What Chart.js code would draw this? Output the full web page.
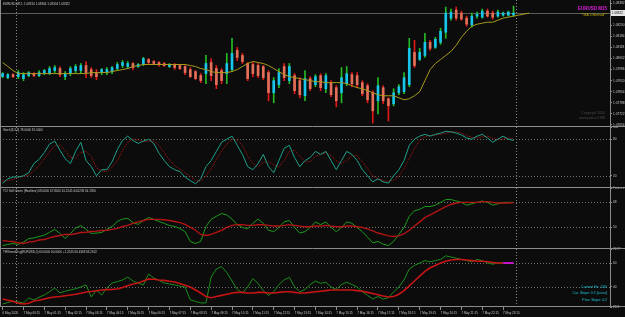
<!DOCTYPE html>
<html>
<head>
<meta charset="utf-8">
<script src="https://cdn.jsdelivr.net/npm/chart.js@4.4.1/dist/chart.umd.min.js"></script>
<style>
  body { margin: 0; background: #0c0c0c; }
  #wrap { position: relative; width: 625px; height: 317px; overflow: hidden; background: #0c0c0c; }
  canvas { position: absolute; left: 0; }
</style>
</head>
<body>
<div id="wrap">
  <canvas id="mainChart" width="625" height="127" style="top:0"></canvas>
  <canvas id="stochChart" width="625" height="61" style="top:127px"></canvas>
  <canvas id="tciChart" width="625" height="61" style="top:188px"></canvas>
  <canvas id="thvChart" width="625" height="68" style="top:249px"></canvas>
</div>
<script>
const FONT = '"Liberation Sans", sans-serif';

// EURUSD M15 bars, 6 May 23:15 .. 7 May 23:45
const opens = [1.07944, 1.07938, 1.07956, 1.07944, 1.07932, 1.07950, 1.07962, 1.07950, 1.07962, 1.07962,
  1.07980, 1.07992, 1.07944, 1.07962, 1.07980, 1.07980, 1.08010, 1.07986, 1.07968, 1.07968,
  1.07968, 1.07974, 1.07992, 1.08010, 1.08004, 1.08022, 1.08004, 1.08016, 1.08046, 1.08034,
  1.08028, 1.08022, 1.08004, 1.08016, 1.08010, 1.08004, 1.07986, 1.07974, 1.07950, 1.07962,
  1.08028, 1.07992, 1.07980, 1.07962, 1.07986, 1.08100, 1.08070, 1.08022, 1.08016, 1.08010,
  1.08004, 1.07968, 1.07848, 1.07896, 1.08004, 1.07920, 1.07950, 1.07920, 1.07830, 1.07932,
  1.07896, 1.07950, 1.07872, 1.07908, 1.07878, 1.07848, 1.07902, 1.07956, 1.07950, 1.07908,
  1.07890, 1.07848, 1.07800, 1.07878, 1.07812, 1.07782, 1.07848, 1.07854, 1.07896, 1.08088,
  1.08046, 1.08070, 1.08148, 1.08118, 1.08148, 1.08208, 1.08292, 1.08340, 1.08322, 1.08292,
  1.08250, 1.08304, 1.08298, 1.08334, 1.08322, 1.08304, 1.08310, 1.08310, 1.08310];
const highs = [1.07968, 1.07962, 1.07962, 1.07980, 1.07968, 1.07974, 1.07968, 1.07980, 1.07986, 1.08004,
  1.08010, 1.08004, 1.07974, 1.08004, 1.08016, 1.08022, 1.08034, 1.07998, 1.07986, 1.07992,
  1.07998, 1.08004, 1.08028, 1.08040, 1.08034, 1.08028, 1.08022, 1.08058, 1.08052, 1.08040,
  1.08034, 1.08028, 1.08022, 1.08022, 1.08016, 1.08010, 1.07998, 1.07980, 1.07962, 1.08070,
  1.08052, 1.08010, 1.07992, 1.08082, 1.08172, 1.08118, 1.08082, 1.08028, 1.08028, 1.08022,
  1.08010, 1.07980, 1.07938, 1.07992, 1.08022, 1.08022, 1.07962, 1.07938, 1.07980, 1.07944,
  1.07956, 1.07962, 1.07962, 1.07920, 1.07890, 1.07998, 1.08004, 1.07968, 1.07968, 1.07920,
  1.07902, 1.07860, 1.07938, 1.07890, 1.07818, 1.07872, 1.07896, 1.07968, 1.08172, 1.08160,
  1.08112, 1.08202, 1.08160, 1.08178, 1.08232, 1.08358, 1.08346, 1.08358, 1.08334, 1.08304,
  1.08322, 1.08328, 1.08346, 1.08346, 1.08334, 1.08340, 1.08328, 1.08334, 1.08364];
const lows = [1.07938, 1.07932, 1.07938, 1.07932, 1.07920, 1.07944, 1.07944, 1.07944, 1.07956, 1.07956,
  1.07968, 1.07944, 1.07926, 1.07950, 1.07968, 1.07962, 1.07938, 1.07938, 1.07926, 1.07956,
  1.07956, 1.07962, 1.07980, 1.07998, 1.07992, 1.07986, 1.07998, 1.08010, 1.08016, 1.08016,
  1.08004, 1.08004, 1.07998, 1.07986, 1.07986, 1.07956, 1.07938, 1.07926, 1.07908, 1.07902,
  1.07920, 1.07872, 1.07902, 1.07902, 1.07974, 1.08040, 1.08022, 1.07920, 1.07944, 1.07938,
  1.07926, 1.07800, 1.07788, 1.07878, 1.07920, 1.07902, 1.07842, 1.07818, 1.07800, 1.07860,
  1.07884, 1.07860, 1.07848, 1.07824, 1.07764, 1.07788, 1.07890, 1.07884, 1.07878, 1.07830,
  1.07788, 1.07668, 1.07722, 1.07782, 1.07680, 1.07770, 1.07836, 1.07842, 1.07884, 1.07998,
  1.08040, 1.08058, 1.08100, 1.08112, 1.08136, 1.08172, 1.08280, 1.08280, 1.08280, 1.08244,
  1.08238, 1.08292, 1.08292, 1.08298, 1.08286, 1.08298, 1.08304, 1.08304, 1.08304];
const closes = [1.07962, 1.07956, 1.07944, 1.07968, 1.07956, 1.07968, 1.07950, 1.07968, 1.07980, 1.07992,
  1.07998, 1.07956, 1.07962, 1.07992, 1.08004, 1.08010, 1.07968, 1.07950, 1.07944, 1.07986,
  1.07986, 1.07998, 1.08016, 1.08028, 1.08022, 1.07998, 1.08016, 1.08052, 1.08028, 1.08022,
  1.08016, 1.08010, 1.08016, 1.07998, 1.07992, 1.07968, 1.07944, 1.07932, 1.07920, 1.08022,
  1.07950, 1.07896, 1.07920, 1.08022, 1.08082, 1.08058, 1.08034, 1.07932, 1.07962, 1.07950,
  1.07938, 1.07848, 1.07920, 1.07968, 1.07938, 1.08004, 1.07860, 1.07836, 1.07932, 1.07872,
  1.07944, 1.07878, 1.07950, 1.07836, 1.07800, 1.07938, 1.07962, 1.07902, 1.07896, 1.07842,
  1.07806, 1.07740, 1.07890, 1.07800, 1.07770, 1.07848, 1.07884, 1.07938, 1.08112, 1.08010,
  1.08088, 1.08148, 1.08112, 1.08166, 1.08214, 1.08322, 1.08328, 1.08292, 1.08286, 1.08256,
  1.08304, 1.08316, 1.08334, 1.08304, 1.08298, 1.08328, 1.08322, 1.08328, 1.08322];
// MA(5) with shift, runs 3 bars past the last candle
const maValues = [1.08028, 1.08004, 1.07980,
  1.07962, 1.07962, 1.07962, 1.07962, 1.07962, 1.07962, 1.07962, 1.07962, 1.07962, 1.07962, 1.07962, 1.07962, 1.07962, 1.07962,
  1.07968, 1.07968, 1.07968, 1.07968,
  1.07974, 1.07980, 1.07986, 1.07992, 1.08004, 1.08010,
  1.08016, 1.08016, 1.08016, 1.08016, 1.08016, 1.08016, 1.08016, 1.08016, 1.08016,
  1.08010, 1.08004, 1.07992, 1.07986, 1.07974,
  1.07968, 1.07968, 1.07968,
  1.07974, 1.07986, 1.08004, 1.08022, 1.08034, 1.08028, 1.08022, 1.08010, 1.07992, 1.07974,
  1.07956, 1.07944, 1.07938, 1.07932, 1.07926, 1.07920, 1.07914, 1.07914,
  1.07908, 1.07908, 1.07908, 1.07908,
  1.07902, 1.07890, 1.07878, 1.07872, 1.07860, 1.07848, 1.07836,
  1.07830, 1.07830, 1.07830,
  1.07818, 1.07806, 1.07812, 1.07830, 1.07854,
  1.07920, 1.07986, 1.08022, 1.08046, 1.08070, 1.08094, 1.08130, 1.08178, 1.08214, 1.08244,
  1.08256, 1.08262, 1.08268, 1.08268, 1.08280, 1.08292, 1.08298, 1.08304, 1.08310, 1.08316, 1.08322];

const stochMain = [8, 15, 18, 18, 20, 25, 40, 47, 58, 72,
  77, 62, 48, 40, 60, 75, 45, 35, 20, 30,
  30, 43, 63, 78, 85, 78, 73, 77, 80, 73,
  57, 45, 35, 30, 27, 18, 12, 7, 15, 35,
  45, 60, 75, 80, 85, 70, 55, 35, 30, 40,
  55, 35, 25, 45, 65, 70, 50, 35, 45, 50,
  60, 55, 60, 45, 30, 45, 60, 55, 45, 30,
  20, 10, 15, 10, 8, 20, 30, 45, 70, 80,
  85, 88, 85, 88, 90, 93, 92, 90, 87, 82,
  80, 85, 88, 82, 75, 80, 85, 80, 78];
const stochSignal = [12, 12, 14, 17, 19, 21, 28, 37, 48, 59,
  69, 70, 62, 50, 49, 58, 60, 52, 33, 28,
  27, 34, 45, 61, 75, 80, 79, 76, 77, 77,
  70, 58, 46, 37, 31, 25, 19, 12, 11, 19,
  32, 47, 60, 72, 80, 78, 70, 53, 40, 35,
  42, 43, 38, 35, 45, 60, 62, 52, 43, 43,
  52, 55, 58, 53, 45, 40, 45, 53, 53, 43,
  32, 20, 15, 12, 11, 13, 19, 32, 48, 65,
  78, 84, 86, 87, 88, 90, 92, 92, 90, 86,
  83, 82, 84, 85, 82, 79, 80, 82, 81];

const tciGreen = [37.0, 37.8, 38.5, 37.8, 39.5, 42.0, 42.5, 43.5, 44.5, 46.5,
  48.6, 45.7, 42.1, 45.7, 49.5, 51.4, 48.6, 45.7, 46.0, 46.4,
  48.6, 50.7, 54.3, 56.0, 56.5, 53.5, 52.2, 55.0, 57.2, 55.8,
  54.3, 52.9, 51.4, 50.7, 49.3, 47.0, 39.9, 38.5, 40.0, 50.7,
  55.8, 58, 60, 59, 56, 52, 50, 49, 53, 56,
  53, 48, 47, 50, 54, 55, 50, 46, 47, 50,
  54, 52, 54, 50, 47, 50, 54, 53, 50, 47,
  43, 39, 40, 38, 37, 40, 45, 50, 58, 62,
  63, 65, 65, 66, 68, 70, 70, 69, 68, 66,
  67, 68, 69, 68, 66, 67, 68, 68, 68];
const tciRed = [40.6, 40.2, 39.9, 39.0, 38.5, 39.5, 39.9, 41.0, 41.4, 42.5,
  43.5, 44.2, 45.0, 45.0, 45.5, 46.4, 46.6, 47.1, 47.4, 47.8,
  48.0, 48.6, 49.3, 50.7, 51.5, 52.9, 54.0, 55.0, 55.8, 55.8,
  55.8, 55.5, 55.0, 54.3, 53.5, 52.2, 50.0, 48.0, 45.0, 44.2,
  45.0, 46.5, 48, 50, 51.5, 52, 52, 51.5, 51.5, 52,
  52, 51.5, 51, 51, 51.5, 52, 51.5, 51, 50.5, 50.5,
  51, 51, 51.5, 51, 50.5, 50.5, 51, 51, 50.5, 50,
  49, 47.5, 46, 45, 44, 43.5, 44, 45.5, 48, 51,
  54, 57, 59, 61, 63, 65, 66.5, 67.5, 68, 68,
  68, 68, 68.5, 68.5, 68, 67.5, 67.5, 67.5, 67.8];

const thvGreen = [25.8, 27.0, 28.3, 27.5, 26.7, 30.8, 29.2, 31.5, 33.3, 36.0,
  39.2, 35.0, 36.5, 37.5, 38.5, 40.0, 41.7, 31.7, 37.5, 33.3,
  39.2, 43.3, 44.5, 45.8, 48.3, 45.0, 43.3, 41.7, 50.8, 47.5,
  45.5, 43.3, 42.5, 41.7, 40.8, 40.0, 29.2, 28.0, 26.7, 26.7,
  48.3, 55, 57, 52, 45, 38, 35, 40, 47, 43,
  37, 33, 36, 42, 46, 48, 40, 36, 38, 42,
  45, 43, 44, 40, 38, 42, 44, 42, 40, 36,
  33, 30, 32, 30, 31, 36, 40, 46, 55, 58,
  60, 62, 61, 62, 63, 66, 65, 64, 63, 62,
  61, 63, 62, 60, 59, 60, 60, 60, 60];
const thvRed = [30.0, 29.0, 28.0, 26.5, 25.8, 26.5, 28.3, 29.0, 30.0, 31.0,
  31.7, 32.0, 32.7, 33.3, 34.0, 34.8, 35.8, 36.2, 36.8, 37.5,
  37.8, 38.0, 38.3, 39.5, 41.0, 42.5, 43.3, 45.0, 46.7, 46.5,
  45.8, 45.5, 44.8, 44.2, 43.0, 41.5, 40.0, 37.5, 35.0, 32.0,
  31.0, 32, 33, 34, 35, 35.5, 35.5, 35, 35, 35.5,
  35.5, 35, 35, 35.5, 36, 36, 35.5, 35, 35, 35.5,
  36, 36.5, 37, 37.5, 37.5, 37.5, 37.5, 37.5, 37, 36.5,
  35.5, 34.5, 33.5, 32.5, 31.7, 32, 34, 37, 41, 45,
  49, 53, 56, 58, 60, 61.5, 62.5, 63, 63, 62.5,
  62, 61.5, 61.5, 61, 60.5, 60, 60, 60, 60];

const timeLabels = ['6 May 2020', '7 May 00:15', '7 May 01:15', '7 May 02:15', '7 May 03:15', '7 May 04:15',
  '7 May 05:15', '7 May 06:15', '7 May 07:15', '7 May 08:15', '7 May 09:15', '7 May 10:15', '7 May 11:15',
  '7 May 12:15', '7 May 13:15', '7 May 14:15', '7 May 15:15', '7 May 16:15', '7 May 17:15', '7 May 18:15',
  '7 May 19:15', '7 May 20:15', '7 May 21:15', '7 May 22:15', '7 May 23:15'];
const priceTicks = [1.08382, 1.08316, 1.08250, 1.08184, 1.08118, 1.08052, 1.07986, 1.07920, 1.07854, 1.07788, 1.07722, 1.07656];
const stochTicks = [100, 80, 20, 0];
const stochLevels = [80, 20];
const tciTicks = [78.2971, 68, 50, 34.56];
const tciLevels = [68, 50];
const thvTicks = [71.7, 60, 40, 23.3];
const thvLevels = [60, 40];
const daySeparators = [2.5, 98.5];

const SLOTS = 117;
const slots = Array.from({ length: SLOTS }, (_, i) => i);
const last = closes.length - 1;

const decor = {
  id: 'decor',
  beforeDatasetsDraw(chart, args, opts) {
    const { ctx, chartArea: a, scales } = chart;
    ctx.save();
    ctx.lineWidth = 1;
    ctx.setLineDash([1, 2]);
    ctx.strokeStyle = '#6c6c6c';
    (opts.levels || []).forEach((v) => {
      const y = Math.round(scales.y.getPixelForValue(v)) + 0.5;
      ctx.beginPath(); ctx.moveTo(a.left, y); ctx.lineTo(a.right, y); ctx.stroke();
    });
    ctx.strokeStyle = '#8a8a8a';
    daySeparators.forEach((i) => {
      const x = Math.round(scales.x.getPixelForValue(i)) + 0.5;
      ctx.beginPath(); ctx.moveTo(x, a.top); ctx.lineTo(x, a.bottom); ctx.stroke();
    });
    ctx.setLineDash([]);
    if (opts.priceLine) {
      const y = Math.round(scales.y.getPixelForValue(opts.priceLine)) + 0.5;
      ctx.strokeStyle = '#5a5a5a';
      ctx.beginPath(); ctx.moveTo(a.left, y); ctx.lineTo(a.right, y); ctx.stroke();
    }
    ctx.strokeStyle = '#8c8c8c';
    ctx.beginPath();
    ctx.moveTo(0.5, a.top); ctx.lineTo(0.5, a.bottom);
    ctx.moveTo(0, a.bottom - 0.5); ctx.lineTo(chart.width, a.bottom - 0.5);
    ctx.stroke();
    ctx.restore();
  },
  afterDraw(chart, args, opts) {
    const { ctx, scales } = chart;
    ctx.save();
    if (opts.priceLine) {
      const y = scales.y.getPixelForValue(opts.priceLine);
      ctx.fillStyle = '#e6e6e6';
      ctx.fillRect(611, Math.round(y) - 3, 14, 6);
      ctx.fillStyle = '#000';
      ctx.font = `3px ${FONT}`;
      ctx.textBaseline = 'middle';
      ctx.fillText(opts.priceLine.toFixed(5), 612, y);
    }
    (opts.texts || []).forEach((t) => {
      ctx.font = `${t.bold ? 'bold ' : ''}${t.size || 3}px ${FONT}`;
      ctx.fillStyle = t.color || '#c8c8c8';
      ctx.textAlign = t.align || 'left';
      ctx.textBaseline = 'middle';
      ctx.fillText(t.text, t.x, t.y);
    });
    ctx.restore();
  },
};

function rightAxis(min, max, ticks, fmt) {
  return {
    position: 'right', min, max,
    afterBuildTicks: (s) => { s.ticks = ticks.map((v) => ({ value: v })); },
    afterFit: (s) => { s.width = 15; s.paddingTop = 0; s.paddingBottom = 0; },
    grid: { drawOnChartArea: false, tickLength: 2, color: '#8c8c8c' },
    border: { color: '#8c8c8c' },
    ticks: { autoSkip: false, color: '#c8c8c8', padding: 1, font: { size: 3.2, family: FONT }, callback: fmt },
  };
}

function hiddenX() { return { type: 'category', offset: true, display: false }; }

function baseOptions(yAxis, xAxis, decorOpts) {
  return {
    responsive: false, animation: false, events: [],
    layout: { padding: 0 },
    plugins: { legend: { display: false }, tooltip: { enabled: false }, decor: decorOpts },
    scales: { x: xAxis || hiddenX(), y: yAxis },
  };
}

function lineSet(data, color, extra) {
  return Object.assign({ type: 'line', data, borderColor: color, borderWidth: 1, pointRadius: 0, tension: 0 }, extra || {});
}

const isBull = (i) => closes[i] >= opens[i];

new Chart(document.getElementById('mainChart'), {
  type: 'bar',
  data: {
    labels: slots,
    datasets: [
      lineSet(maValues, '#a89a1c', { order: 1 }),
      { data: opens.map((o, i) => [o, closes[i]]), backgroundColor: (c) => (isBull(c.dataIndex) ? '#17c6ea' : '#e2705a'), barThickness: 2, minBarLength: 1, grouped: false, order: 2 },
      { data: lows.map((l, i) => [l, highs[i]]), backgroundColor: (c) => (isBull(c.dataIndex) ? '#22bb22' : '#e01818'), barThickness: 1, grouped: false, order: 3 },
    ],
  },
  options: baseOptions(rightAxis(1.07644, 1.0840, priceTicks, (v) => v.toFixed(5)), null, {
    priceLine: closes[last],
    texts: [
      { text: `EURUSD,M15  ${opens[last].toFixed(5)} ${highs[last].toFixed(5)} ${lows[last].toFixed(5)} ${closes[last].toFixed(5)}`, x: 3, y: 4 },
      { text: 'EURUSD M15', x: 607, y: 9, align: 'right', bold: true, size: 4.5, color: '#e020e0' },
      { text: '**MA 5 Method**', x: 607, y: 15.5, align: 'right', size: 3.5, color: '#c8b400' },
      { text: 'Copyright 2016', x: 605, y: 113, align: 'right', size: 3.5, color: '#4a4a4a' },
      { text: 'anonymous1788', x: 605, y: 118.5, align: 'right', size: 3.5, color: '#4a4a4a' },
    ],
  }),
  plugins: [decor],
});

new Chart(document.getElementById('stochChart'), {
  type: 'line',
  data: {
    labels: slots,
    datasets: [
      lineSet(stochMain, '#1fa08a'),
      lineSet(stochSignal, '#b01414', { borderDash: [1, 1] }),
    ],
  },
  options: baseOptions(rightAxis(0, 100, stochTicks, (v) => String(v)), null, {
    levels: stochLevels,
    texts: [{ text: `Stoch(8,3,3) ${stochMain[last].toFixed(4)} ${stochSignal[last].toFixed(4)}`, x: 3, y: 3.5 }],
  }),
  plugins: [decor],
});

new Chart(document.getElementById('tciChart'), {
  type: 'line',
  data: {
    labels: slots,
    datasets: [
      lineSet(tciRed, '#b41414', { borderWidth: 1.4 }),
      lineSet(tciGreen, '#1c9c1c'),
    ],
  },
  options: baseOptions(rightAxis(34.56, 78.2971, tciTicks, (v) => String(v)), null, {
    levels: tciLevels,
    texts: [{ text: `TCI Sell Green (Realtime) ${tciGreen[last].toFixed(4)} ${tciRed[last].toFixed(4)} 61.2245 64.6239 64.1956`, x: 3, y: 3.5 }],
  }),
  plugins: [decor],
});

new Chart(document.getElementById('thvChart'), {
  type: 'line',
  data: {
    labels: slots,
    datasets: [
      lineSet(thvRed, '#c81414', { borderWidth: 1.6, segment: { borderColor: (c) => (c.p0DataIndex >= 96 ? '#ff00ff' : undefined) } }),
      lineSet(thvGreen, '#1c8c1c'),
    ],
  },
  options: baseOptions(rightAxis(23.3, 71.7, thvTicks, (v) => String(v)), {
    type: 'category', offset: true,
    grid: { display: true, drawOnChartArea: false, tickLength: 3, color: '#8c8c8c' },
    border: { display: false },
    afterBuildTicks: (s) => { s.ticks = s.ticks.filter((t) => t.value % 4 === 0 && t.value / 4 < timeLabels.length); },
    afterFit: (s) => { s.height = 10; s.paddingLeft = 0; s.paddingRight = 0; },
    ticks: { autoSkip: false, maxRotation: 0, align: 'start', padding: 1, color: '#c8c8c8', font: { size: 3, family: FONT }, callback: (v) => timeLabels[v / 4] },
  }, {
    levels: thvLevels,
    texts: [
      { text: `THVtrendOsg(EURUSD,0) ${thvGreen[last].toFixed(4)} ${thvRed[last].toFixed(4)} +1.2245 66.4368 66.2622`, x: 3, y: 3.5 },
      { text: 'Current Hx: 1/30', x: 607, y: 38, align: 'right', size: 3.5, color: '#1cc8d8' },
      { text: 'Cur. Slope: 0.5 [cross]', x: 607, y: 44.5, align: 'right', size: 3.5, color: '#1cc8d8' },
      { text: 'Prev. Slope: 0.2', x: 607, y: 51, align: 'right', size: 3.5, color: '#1cc8d8' },
    ],
  }),
  plugins: [decor],
});
</script>
</body>
</html>
